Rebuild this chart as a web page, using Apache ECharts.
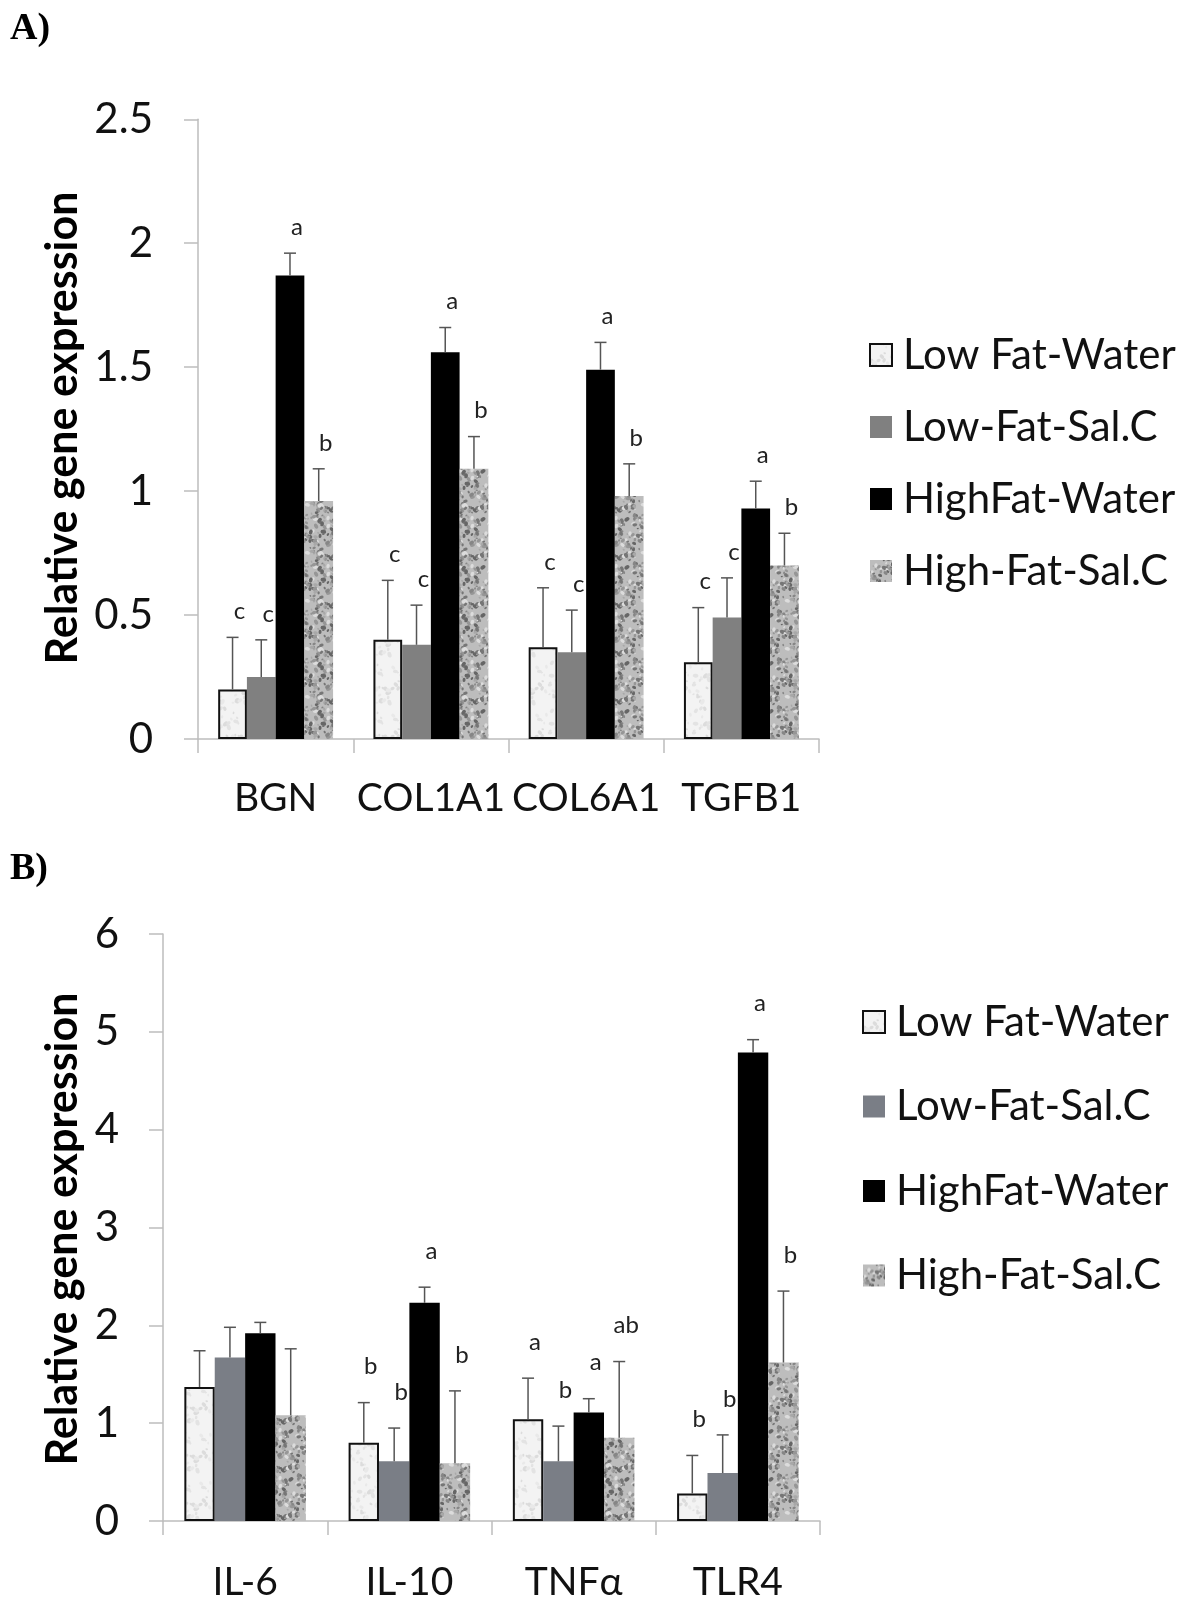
<!DOCTYPE html>
<html><head><meta charset="utf-8">
<script src="https://cdn.jsdelivr.net/npm/echarts@6/dist/echarts.min.js"></script>
<style>html,body{margin:0;padding:0;background:#fff}#c{width:1200px;height:1605px}</style>
</head><body><div id="c"></div>
<script>
// ---------- data ----------
const seriesNames = ['Low Fat-Water', 'Low-Fat-Sal.C', 'HighFat-Water', 'High-Fat-Sal.C'];

const catsA = ['BGN', 'COL1A1', 'COL6A1', 'TGFB1'];
const aLFW = [0.20, 0.40, 0.37, 0.31];
const aLFWErr = [0.21, 0.24, 0.24, 0.22];
const aLFSC = [0.25, 0.38, 0.35, 0.49];
const aLFSCErr = [0.15, 0.16, 0.17, 0.16];
const aHFW = [1.87, 1.56, 1.49, 0.93];
const aHFWErr = [0.09, 0.10, 0.11, 0.11];
const aHFSC = [0.96, 1.09, 0.98, 0.70];
const aHFSCErr = [0.13, 0.13, 0.13, 0.13];
const aLetLFW = ['c', 'c', 'c', 'c'];
const aLetLFSC = ['c', 'c', 'c', 'c'];
const aLetHFW = ['a', 'a', 'a', 'a'];
const aLetHFSC = ['b', 'b', 'b', 'b'];
const aTicks = { min: 0, max: 2.5, interval: 0.5 };

const catsB = ['IL-6', 'IL-10', 'TNFα', 'TLR4'];
const bLFW = [1.37, 0.80, 1.04, 0.28];
const bLFWErr = [0.37, 0.41, 0.42, 0.39];
const bLFSC = [1.67, 0.61, 0.61, 0.49];
const bLFSCErr = [0.31, 0.34, 0.36, 0.39];
const bHFW = [1.92, 2.23, 1.11, 4.79];
const bHFWErr = [0.11, 0.16, 0.14, 0.13];
const bHFSC = [1.08, 0.59, 0.85, 1.62];
const bHFSCErr = [0.68, 0.74, 0.78, 0.73];
const bLetLFW = ['', 'b', 'a', 'b'];
const bLetLFSC = ['', 'b', 'b', 'b'];
const bLetHFW = ['', 'a', 'a', 'a'];
const bLetHFSC = ['', 'b', 'ab', 'b'];
const bTicks = { min: 0, max: 6, interval: 1 };

const yTitle = 'Relative gene expression';

// ---------- textures ----------
function hash(i) { const x = Math.sin(i * 12.9898 + 78.233) * 43758.5453; return x - Math.floor(x); }
function makeTex(base, spots, n, rmin, rmax, seed) {
  const S = 48;
  const c = document.createElement('canvas'); c.width = S; c.height = S;
  const g = c.getContext('2d');
  g.fillStyle = base; g.fillRect(0, 0, S, S);
  for (let k = 0; k < n; k++) {
    const x = hash(seed + k * 3 + 1) * S, y = hash(seed + k * 3 + 2) * S;
    const r = rmin + hash(seed + k * 3 + 3) * (rmax - rmin);
    g.fillStyle = spots[k % spots.length];
    for (const dx of [-S, 0, S]) for (const dy of [-S, 0, S]) {
      g.beginPath();
      g.ellipse(x + dx, y + dy, r, r * 0.7, hash(seed + k) * 3.14, 0, Math.PI * 2);
      g.fill();
    }
  }
  return c;
}
const texLight = { image: makeTex('#f3f3f3', ['#e3e3e3', '#dcdcdc', '#e9e9e9'], 50, 1.2, 3.0, 7), repeat: 'repeat' };
const texDark = { image: makeTex('#bdbdbd', ['#767676', '#969696', '#666666', '#a8a8a8', '#dcdcdc', '#868686'], 140, 1.0, 2.8, 91), repeat: 'repeat' };

const font = 'Lato, "Open Sans", sans-serif';

function styles(lfscColor) {
  return [
    { color: texLight, borderColor: '#111', borderWidth: 2 },
    { color: lfscColor },
    { color: '#000' },
    { color: texDark }
  ];
}
const stylesA = styles('#808080');
const stylesB = styles('#7a7e86');

function barSeries(gi, vals, idx, st) {
  return {
    type: 'bar', name: seriesNames[idx], xAxisIndex: gi, yAxisIndex: gi,
    data: vals, barGap: '0%', barCategoryGap: '26%', itemStyle: st, z: 2,
    emphasis: { disabled: true }
  };
}
function errSeries(gi, vals, errs, letters, sIdx, offPx) {
  return {
    type: 'custom', xAxisIndex: gi, yAxisIndex: gi, silent: true, z: 5,
    data: vals.map((v, i) => [i, v, errs[i]]),
    encode: { x: 0, y: 1 },
    renderItem: function (params, api) {
      const ci = api.value(0), v = api.value(1), e = api.value(2);
      const L = letters[params.dataIndex];
      const band = api.size([1, 0])[0];
      const bw = band * (1 - 0.26) / 4;
      const x = api.coord([ci, 0])[0] + (sIdx - 1.5) * bw;
      const yb = api.coord([ci, v])[1];
      const yt = api.coord([ci, v + e])[1];
      const st = { stroke: '#555', lineWidth: 1.5 };
      const ch = [
        { type: 'line', shape: { x1: x, y1: yb, x2: x, y2: yt }, style: st },
        { type: 'line', shape: { x1: x - 6, y1: yt, x2: x + 6, y2: yt }, style: st }
      ];
      if (L) ch.push({
        type: 'text', x: x + 7, y: yt - offPx,
        style: { text: L, font: '24px ' + font, fill: '#222', align: 'center', verticalAlign: 'middle' }
      });
      return { type: 'group', children: ch };
    }
  };
}

const axisLineStyle = { color: '#bdbdbd', width: 1.5 };
function xAx(gi, cats, margin) {
  return {
    type: 'category', gridIndex: gi, data: cats,
    axisLine: { lineStyle: axisLineStyle }, axisTick: { show: true, length: 14, lineStyle: axisLineStyle },
    axisLabel: { interval: 0, fontSize: 39, fontFamily: font, color: '#111', margin: margin, lineHeight: 40 }
  };
}
function yAx(gi, t, margin) {
  return {
    type: 'value', gridIndex: gi, min: t.min, max: t.max, interval: t.interval,
    axisLine: { show: true, lineStyle: axisLineStyle },
    axisTick: { show: true, length: 14, lineStyle: axisLineStyle },
    splitLine: { show: false },
    axisLabel: { fontSize: 42, fontFamily: font, color: '#111', margin: margin }
  };
}
function legendFor(top, left, gap, st) {
  return {
    orient: 'vertical', left: left, top: top, itemGap: gap, itemWidth: 22, itemHeight: 22,
    selectedMode: false,
    textStyle: { fontSize: 42, fontFamily: font, color: '#111', lineHeight: 44, padding: [0, 0, 0, 6] },
    data: seriesNames.map((n, i) => ({ name: n, icon: 'rect', itemStyle: st[i] }))
  };
}

const chart = echarts.init(document.getElementById('c'), null, { renderer: 'canvas' });
chart.setOption({
  animation: false,
  backgroundColor: '#fff',
  grid: [
    { left: 198, top: 119.3, width: 621, height: 619.7 },
    { left: 163, top: 934, width: 657, height: 587 }
  ],
  xAxis: [xAx(0, catsA, 39), xAx(1, catsB, 41)],
  yAxis: [yAx(0, aTicks, 45), yAx(1, bTicks, 44)],
  legend: [legendFor(328, 864, 28, stylesA), legendFor(995, 857, 40.5, stylesB)],
  graphic: [
    { type: 'text', left: 10, top: 10, style: { text: 'A)', font: 'bold 38px "Liberation Serif", "DejaVu Serif", serif', fill: '#000' } },
    { type: 'text', left: 10, top: 850, style: { text: 'B)', font: 'bold 38px "Liberation Serif", "DejaVu Serif", serif', fill: '#000' } },
    { type: 'text', x: 63, y: 428, rotation: Math.PI / 2, style: { text: yTitle, font: 'bold 43px ' + font, fill: '#000', align: 'center', verticalAlign: 'middle' } },
    { type: 'text', x: 63, y: 1229, rotation: Math.PI / 2, style: { text: yTitle, font: 'bold 43px ' + font, fill: '#000', align: 'center', verticalAlign: 'middle' } }
  ],
  series: [
    barSeries(0, aLFW, 0, stylesA[0]), barSeries(0, aLFSC, 1, stylesA[1]),
    barSeries(0, aHFW, 2, stylesA[2]), barSeries(0, aHFSC, 3, stylesA[3]),
    errSeries(0, aLFW, aLFWErr, aLetLFW, 0, 26), errSeries(0, aLFSC, aLFSCErr, aLetLFSC, 1, 26),
    errSeries(0, aHFW, aHFWErr, aLetHFW, 2, 26), errSeries(0, aHFSC, aHFSCErr, aLetHFSC, 3, 26),
    barSeries(1, bLFW, 0, stylesB[0]), barSeries(1, bLFSC, 1, stylesB[1]),
    barSeries(1, bHFW, 2, stylesB[2]), barSeries(1, bHFSC, 3, stylesB[3]),
    errSeries(1, bLFW, bLFWErr, bLetLFW, 0, 36), errSeries(1, bLFSC, bLFSCErr, bLetLFSC, 1, 36),
    errSeries(1, bHFW, bHFWErr, bLetHFW, 2, 36), errSeries(1, bHFSC, bHFSCErr, bLetHFSC, 3, 36)
  ]
});
</script>
</body></html>
